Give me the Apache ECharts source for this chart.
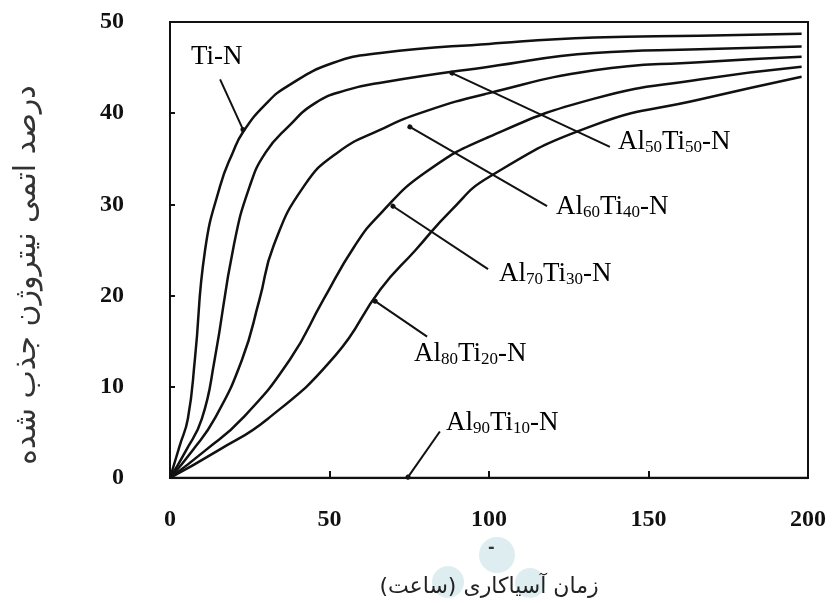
<!DOCTYPE html>
<html>
<head>
<meta charset="utf-8">
<script src="https://cdn.jsdelivr.net/npm/echarts@6/dist/echarts.min.js"></script>
<style>
  html, body { margin: 0; padding: 0; background: #fff; }
  #chart { width: 832px; height: 603px; }
</style>
</head>
<body>
<div id="chart"></div>
<script>
// milling time (h) vs absorbed nitrogen (at.%)
var xTicks = [0, 50, 100, 150, 200];
var yTicks = [0, 10, 20, 30, 40, 50];

var tiN = [[0,0],[3,3.5],[5.6,6.5],[7.8,13],[11,25],[15.7,32],[19.7,35.7],[23,38],[30,41],[37,43],[51,45.5],[66,46.6],[100,47.6],[133,48.3],[166,48.5],[198,48.7]];
var al50 = [[0,0],[5,3],[10,6.5],[14,13],[20,25.5],[25,32],[30,35.7],[37,38.5],[45.5,41.1],[55,42.5],[67,43.4],[100,45.1],[133,46.6],[166,47.0],[198,47.3]];
var al60 = [[0,0],[7,3],[14,6.5],[22.6,13],[28,19.5],[32.5,25.5],[42,32],[52.6,35.7],[66,38.2],[80,40.2],[100,42.2],[133,44.7],[166,45.6],[198,46.2]];
var al70 = [[0,0],[11,3],[22.6,6.5],[37.6,13],[48,19.5],[58,25.5],[66,29],[80,33.5],[100,37.4],[133,41.6],[166,43.7],[198,45.1]];
var al80 = [[0,0],[15,3],[30.7,6.5],[52,13.5],[66,20.7],[77,25],[88,29.3],[100,33],[133,38.7],[166,41.5],[198,44]];
var al90 = [[0,0],[200,0]];

// leader lines from labels to curves: [label end, curve end]
var leaders = [
  [[15.7,43.7],[22.9,38.2]],
  [[137.9,36.3],[88.4,44.4]],
  [[118.2,29.8],[75.2,38.5]],
  [[99.7,22.9],[69.9,29.8]],
  [[80.6,15.5],[64.3,19.4]],
  [[84.6,5.1],[74.6,0.1]]
];

var serif = 'Liberation Serif';
var arabic = 'DejaVu Sans';

function curve(name, data) {
  return {
    name: name,
    type: 'line',
    data: data,
    smooth: 0.5,
    showSymbol: false,
    lineStyle: { color: '#111', width: 2.5 }
  };
}

var series = [
  curve('Ti-N', tiN),
  curve('Al50Ti50-N', al50),
  curve('Al60Ti40-N', al60),
  curve('Al70Ti30-N', al70),
  curve('Al80Ti20-N', al80),
  curve('Al90Ti10-N', al90)
];

series.push({
  type: 'line',
  data: [],
  markLine: {
    silent: true,
    symbol: ['none', 'circle'],
    symbolSize: 5,
    label: { show: false },
    lineStyle: { color: '#111', width: 2, type: 'solid' },
    data: leaders.map(function (l) {
      return [{ coord: l[0] }, { coord: l[1] }];
    })
  }
});

var rich = {
  n: { fontFamily: serif, fontSize: 27, color: '#111', lineHeight: 30, verticalAlign: 'middle' },
  s: { fontFamily: serif, fontSize: 17, color: '#111', lineHeight: 8, verticalAlign: 'bottom' }
};

function label(x, y, text) {
  return {
    type: 'text', left: x, top: y, z: 10,
    style: { text: text, rich: rich }
  };
}

var myChart = echarts.init(document.getElementById('chart'));
var option = {
  backgroundColor: '#fff',
  animation: false,
  grid: {
    left: 170, right: 24, top: 22, bottom: 124,
    show: true, borderColor: '#111', borderWidth: 2
  },
  xAxis: {
    type: 'value',
    min: 0, max: 200, interval: 50,
    name: 'زمان آسیاکاری (ساعت)',
    nameLocation: 'middle',
    nameGap: 98,
    nameTextStyle: { fontFamily: arabic, fontSize: 22, color: '#222' },
    axisLine: { lineStyle: { color: '#111', width: 2 } },
    axisTick: { inside: true, length: 7, lineStyle: { color: '#111', width: 2 } },
    axisLabel: { margin: 30, fontFamily: serif, fontSize: 24, fontWeight: 'bold', color: '#111',
      formatter: function (v) { return xTicks.indexOf(v) >= 0 ? String(v) : ''; } },
    splitLine: { show: false }
  },
  yAxis: {
    type: 'value',
    min: 0, max: 50, interval: 10,
    name: 'درصد اتمی نیتروژن جذب شده',
    nameLocation: 'middle',
    nameGap: 128,
    nameTextStyle: { fontFamily: arabic, fontSize: 30, color: '#333', padding: [0, 50, 0, 0] },
    axisLine: { lineStyle: { color: '#111', width: 2 } },
    axisTick: { inside: true, length: 5, lineStyle: { color: '#111', width: 2 } },
    axisLabel: { margin: 46, fontFamily: serif, fontSize: 24, fontWeight: 'bold', color: '#111',
      formatter: function (v) { return yTicks.indexOf(v) >= 0 ? String(v) : ''; } },
    splitLine: { show: false }
  },
  graphic: [
    { type: 'circle', shape: { cx: 497, cy: 555, r: 18 }, style: { fill: '#deeef0' }, z: -1 },
    { type: 'circle', shape: { cx: 448, cy: 582, r: 16 }, style: { fill: '#deeef0' }, z: -1 },
    { type: 'circle', shape: { cx: 530, cy: 583, r: 15 }, style: { fill: '#deeef0' }, z: -1 },
    { type: 'text', left: 488, top: 540, style: { text: '-', font: 'bold 16px DejaVu Sans', fill: '#333' } },
    label(191, 43, '{n|Ti-N}'),
    label(618, 128, '{n|Al}{s|50}{n|Ti}{s|50}{n|-N}'),
    label(556, 193, '{n|Al}{s|60}{n|Ti}{s|40}{n|-N}'),
    label(499, 260, '{n|Al}{s|70}{n|Ti}{s|30}{n|-N}'),
    label(414, 340, '{n|Al}{s|80}{n|Ti}{s|20}{n|-N}'),
    label(446, 409, '{n|Al}{s|90}{n|Ti}{s|10}{n|-N}')
  ],
  series: series
};
myChart.setOption(option);
window.addEventListener('resize', function () { myChart.resize(); });
</script>
</body>
</html>
